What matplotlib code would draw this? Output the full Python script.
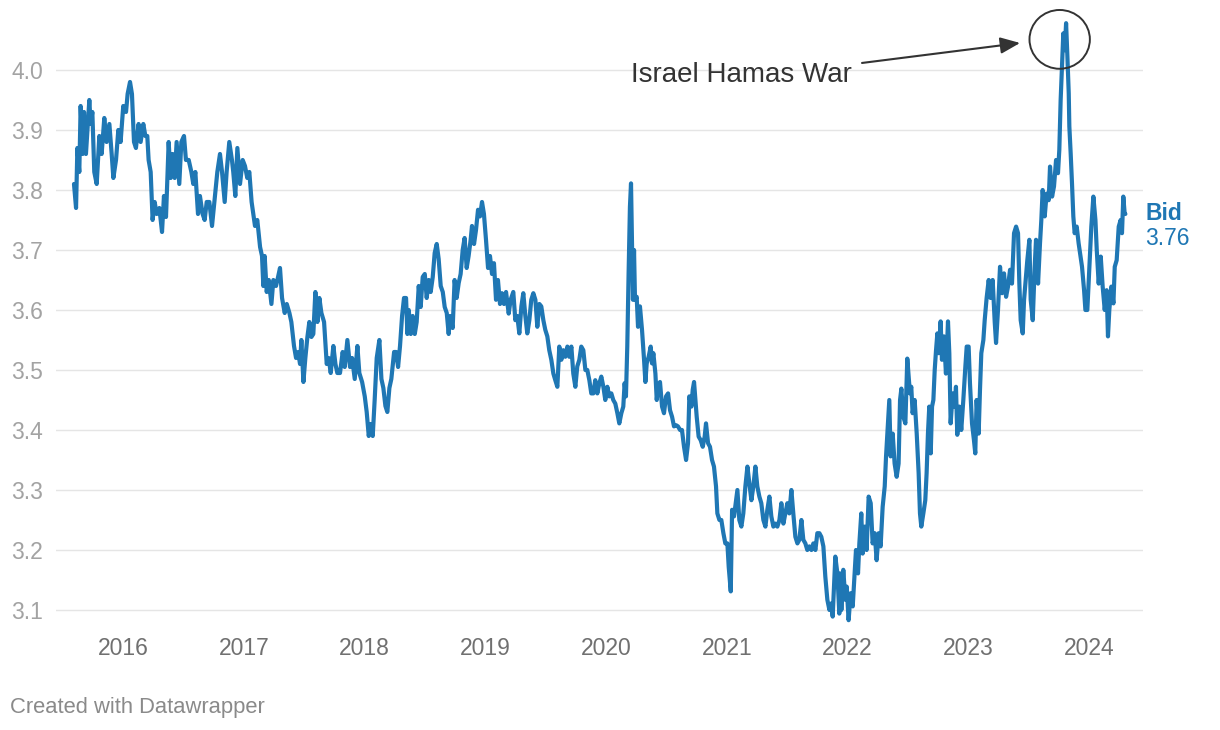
import matplotlib
matplotlib.use("Agg")
import matplotlib.pyplot as plt
from matplotlib.patches import Ellipse

plt.rcParams['font.family'] = ['Liberation Sans', 'DejaVu Sans']

# USD/ILS bid, dates as decimal years
dates = [
    2015.594, 2015.611, 2015.622, 2015.638, 2015.649, 2015.666, 2015.677, 2015.693, 2015.721, 2015.732,
    2015.746, 2015.762, 2015.782, 2015.804, 2015.823, 2015.845, 2015.864, 2015.887, 2015.906, 2015.920,
    2015.942, 2015.961, 2015.980, 2016.002, 2016.025, 2016.038, 2016.058, 2016.074, 2016.091, 2016.107,
    2016.129, 2016.146, 2016.168, 2016.185, 2016.201, 2016.212, 2016.229, 2016.245, 2016.262, 2016.279,
    2016.301, 2016.323, 2016.339, 2016.356, 2016.378, 2016.395, 2016.411, 2016.428, 2016.444, 2016.466,
    2016.483, 2016.505, 2016.521, 2016.544, 2016.566, 2016.582, 2016.599, 2016.621, 2016.637, 2016.659,
    2016.676, 2016.693, 2016.715, 2016.737, 2016.759, 2016.781, 2016.803, 2016.820, 2016.842, 2016.858,
    2016.880, 2016.902, 2016.913, 2016.930, 2016.947, 2016.969, 2016.991, 2017.010, 2017.029, 2017.046,
    2017.065, 2017.093, 2017.112,
    2017.135, 2017.151, 2017.162, 2017.173, 2017.190, 2017.207, 2017.229, 2017.245, 2017.267, 2017.284,
    2017.300, 2017.317, 2017.339, 2017.356, 2017.378, 2017.394, 2017.416, 2017.433, 2017.450, 2017.466,
    2017.477, 2017.494, 2017.510, 2017.527, 2017.543, 2017.560, 2017.576, 2017.593, 2017.610, 2017.626,
    2017.643, 2017.665, 2017.687, 2017.703, 2017.720, 2017.742, 2017.759, 2017.775, 2017.797, 2017.819,
    2017.836, 2017.858, 2017.880, 2017.897, 2017.919, 2017.941, 2017.957, 2017.980, 2018.002, 2018.018,
    2018.035, 2018.051, 2018.068, 2018.084, 2018.101, 2018.123, 2018.140, 2018.156, 2018.173, 2018.189,
    2018.206, 2018.222, 2018.245, 2018.261, 2018.278, 2018.294, 2018.311, 2018.327, 2018.344, 2018.355,
    2018.366, 2018.383, 2018.399, 2018.416, 2018.432, 2018.449, 2018.465, 2018.482, 2018.499, 2018.515,
    2018.532, 2018.548, 2018.565, 2018.581, 2018.598, 2018.614, 2018.631, 2018.648, 2018.664, 2018.681,
    2018.697, 2018.708,
    2018.730, 2018.746, 2018.763, 2018.780, 2018.796, 2018.813, 2018.829, 2018.846, 2018.862, 2018.879,
    2018.890, 2018.907, 2018.923, 2018.940, 2018.956, 2018.973, 2018.989, 2019.006, 2019.023, 2019.039,
    2019.056, 2019.072, 2019.089, 2019.105, 2019.122, 2019.138, 2019.155, 2019.172, 2019.194, 2019.210,
    2019.232, 2019.249, 2019.265, 2019.282, 2019.299, 2019.315, 2019.332, 2019.348, 2019.365, 2019.381,
    2019.398, 2019.415, 2019.431, 2019.448, 2019.464, 2019.481, 2019.497, 2019.514, 2019.530, 2019.547,
    2019.564, 2019.580, 2019.597, 2019.613, 2019.630, 2019.646, 2019.663, 2019.680, 2019.696, 2019.713,
    2019.729, 2019.746, 2019.762, 2019.779, 2019.795, 2019.812, 2019.829, 2019.845, 2019.862, 2019.878,
    2019.895, 2019.911, 2019.928, 2019.945, 2019.961, 2019.978, 2019.994, 2020.011, 2020.027, 2020.044,
    2020.060, 2020.077, 2020.094, 2020.110, 2020.127, 2020.143, 2020.154, 2020.165, 2020.176, 2020.187,
    2020.198, 2020.207, 2020.215, 2020.223, 2020.232, 2020.240, 2020.254, 2020.265, 2020.281,
    2020.298, 2020.315, 2020.326, 2020.337, 2020.353, 2020.370, 2020.381, 2020.392, 2020.409, 2020.420,
    2020.431, 2020.447, 2020.464, 2020.480, 2020.497, 2020.514, 2020.530, 2020.547, 2020.563, 2020.580,
    2020.596, 2020.613, 2020.629, 2020.646, 2020.663, 2020.679, 2020.690, 2020.707, 2020.718, 2020.729,
    2020.740, 2020.751, 2020.767, 2020.784, 2020.801, 2020.817, 2020.828, 2020.845, 2020.861, 2020.878,
    2020.894, 2020.911, 2020.922, 2020.939, 2020.955, 2020.972, 2020.988, 2021.005, 2021.016, 2021.033,
    2021.044, 2021.060, 2021.077, 2021.088, 2021.104, 2021.121, 2021.137, 2021.154, 2021.171, 2021.187,
    2021.204, 2021.220, 2021.237, 2021.253, 2021.270, 2021.286, 2021.303, 2021.320, 2021.336, 2021.353,
    2021.369, 2021.386, 2021.402, 2021.419, 2021.436, 2021.452, 2021.469, 2021.485, 2021.502, 2021.518,
    2021.535, 2021.551, 2021.568, 2021.585, 2021.601, 2021.618, 2021.634, 2021.651, 2021.667, 2021.684,
    2021.701, 2021.717, 2021.734, 2021.750, 2021.767, 2021.783, 2021.800, 2021.816, 2021.833, 2021.850,
    2021.866, 2021.877, 2021.888, 2021.899, 2021.916, 2021.932,
    2021.938, 2021.949, 2021.965, 2021.982, 2021.993, 2022.009, 2022.026, 2022.043, 2022.059, 2022.070,
    2022.087, 2022.098, 2022.114, 2022.125, 2022.142, 2022.158, 2022.175, 2022.192, 2022.208, 2022.225,
    2022.241, 2022.258, 2022.274, 2022.291, 2022.308, 2022.319, 2022.335, 2022.346, 2022.357, 2022.374,
    2022.390, 2022.407, 2022.423, 2022.435, 2022.446, 2022.462, 2022.479, 2022.495, 2022.506, 2022.517,
    2022.528, 2022.539, 2022.556, 2022.573, 2022.589, 2022.600, 2022.611, 2022.628, 2022.644, 2022.655,
    2022.666, 2022.677, 2022.689, 2022.700, 2022.711, 2022.722, 2022.733, 2022.744, 2022.755, 2022.771,
    2022.782, 2022.799, 2022.815, 2022.832, 2022.843, 2022.854, 2022.871, 2022.887, 2022.898, 2022.909,
    2022.926, 2022.942, 2022.959, 2022.976, 2022.987, 2023.003, 2023.014, 2023.031, 2023.047, 2023.058,
    2023.069, 2023.086, 2023.097, 2023.108, 2023.125, 2023.136, 2023.152, 2023.169, 2023.185, 2023.202,
    2023.219, 2023.230, 2023.246,
    2023.263, 2023.280, 2023.296, 2023.313, 2023.329, 2023.346, 2023.362, 2023.379, 2023.396, 2023.412,
    2023.423, 2023.434, 2023.451, 2023.462, 2023.473, 2023.489, 2023.506, 2023.517, 2023.534, 2023.550,
    2023.561, 2023.578, 2023.594, 2023.605, 2023.616, 2023.633, 2023.649, 2023.666, 2023.677, 2023.694,
    2023.710, 2023.727, 2023.743, 2023.754, 2023.765, 2023.776, 2023.787, 2023.799, 2023.810, 2023.821,
    2023.832, 2023.837, 2023.848, 2023.859, 2023.870, 2023.881, 2023.898, 2023.914, 2023.926, 2023.942,
    2023.959, 2023.970, 2023.986, 2024.003, 2024.019, 2024.036, 2024.053, 2024.064, 2024.080, 2024.097,
    2024.113, 2024.130, 2024.146, 2024.157, 2024.168, 2024.185, 2024.202, 2024.213, 2024.229, 2024.246,
    2024.262, 2024.273, 2024.284, 2024.295, 2024.301,
]

bid = [
    3.81, 3.77, 3.87, 3.83, 3.94, 3.86, 3.93, 3.86, 3.95, 3.91,
    3.93, 3.83, 3.81, 3.89, 3.86, 3.92, 3.88, 3.91, 3.86, 3.82,
    3.85, 3.90, 3.88, 3.94, 3.93, 3.96, 3.98, 3.96, 3.88, 3.87,
    3.91, 3.88, 3.91, 3.89, 3.89, 3.85, 3.83, 3.75, 3.78, 3.76,
    3.77, 3.73, 3.79, 3.755, 3.88, 3.82, 3.86, 3.82, 3.88, 3.81,
    3.88, 3.89, 3.85, 3.85, 3.83, 3.81, 3.83, 3.76, 3.79, 3.76,
    3.75, 3.78, 3.78, 3.74, 3.785, 3.83, 3.86, 3.83, 3.78, 3.83,
    3.88, 3.85, 3.83, 3.79, 3.87, 3.81, 3.85, 3.84, 3.82, 3.83,
    3.78, 3.74, 3.75,
    3.705, 3.69, 3.64, 3.69, 3.63, 3.65, 3.61, 3.65, 3.64, 3.655,
    3.67, 3.62, 3.595, 3.61, 3.595, 3.58, 3.54, 3.52, 3.53, 3.51,
    3.55, 3.48, 3.52, 3.555, 3.58, 3.555, 3.56, 3.63, 3.58, 3.62,
    3.595, 3.58, 3.51, 3.52, 3.495, 3.54, 3.51, 3.495, 3.495, 3.53,
    3.505, 3.55, 3.505, 3.52, 3.485, 3.54, 3.495, 3.48, 3.456, 3.43,
    3.39, 3.41, 3.39, 3.45, 3.52, 3.55, 3.485, 3.47, 3.44, 3.43,
    3.47, 3.485, 3.53, 3.53, 3.505, 3.54, 3.59, 3.62, 3.62, 3.56,
    3.60, 3.56, 3.59, 3.56, 3.58, 3.64, 3.605, 3.655, 3.66, 3.62,
    3.65, 3.63, 3.655, 3.695, 3.71, 3.685, 3.64, 3.63, 3.605, 3.595,
    3.56, 3.59,
    3.57, 3.65, 3.62, 3.645, 3.66, 3.70, 3.72, 3.67, 3.69, 3.717,
    3.74, 3.71, 3.733, 3.767, 3.756, 3.78, 3.76, 3.717, 3.67, 3.69,
    3.66, 3.678, 3.617, 3.65, 3.61, 3.628, 3.61, 3.63, 3.594, 3.617,
    3.63, 3.583, 3.59, 3.561, 3.606, 3.628, 3.59, 3.561, 3.583, 3.617,
    3.628, 3.617, 3.572, 3.61, 3.606, 3.583, 3.567, 3.556, 3.533, 3.517,
    3.494, 3.483, 3.472, 3.539, 3.517, 3.533, 3.522, 3.539, 3.522, 3.539,
    3.494, 3.472, 3.506, 3.517, 3.539, 3.533, 3.50, 3.50, 3.483, 3.461,
    3.461, 3.483, 3.461, 3.478, 3.489, 3.472, 3.45, 3.472, 3.456, 3.461,
    3.45, 3.444, 3.428, 3.411, 3.428, 3.439, 3.478, 3.456, 3.539, 3.661,
    3.772, 3.811, 3.717, 3.617, 3.70, 3.617, 3.622, 3.572, 3.606,
    3.567, 3.517, 3.48, 3.511, 3.522, 3.539, 3.511, 3.528, 3.494, 3.45,
    3.472, 3.48, 3.439, 3.428, 3.456, 3.461, 3.433, 3.422, 3.406, 3.408,
    3.406, 3.40, 3.40, 3.372, 3.35, 3.378, 3.456, 3.439, 3.467, 3.48,
    3.45, 3.422, 3.389, 3.383, 3.372, 3.389, 3.411, 3.378, 3.372, 3.35,
    3.339, 3.306, 3.261, 3.25, 3.25, 3.228, 3.211, 3.211, 3.172, 3.131,
    3.267, 3.256, 3.283, 3.30, 3.25, 3.239, 3.261, 3.306, 3.339, 3.311,
    3.283, 3.306, 3.339, 3.306, 3.289, 3.278, 3.25, 3.239, 3.267, 3.289,
    3.256, 3.239, 3.244, 3.239, 3.25, 3.278, 3.244, 3.261, 3.278, 3.261,
    3.30, 3.261, 3.222, 3.211, 3.217, 3.25, 3.217, 3.211, 3.20, 3.206,
    3.20, 3.211, 3.20, 3.228, 3.228, 3.222, 3.206, 3.156, 3.117, 3.10,
    3.111, 3.089, 3.139, 3.189, 3.161, 3.094,
    3.161, 3.10, 3.167, 3.117, 3.139, 3.083, 3.128, 3.106, 3.161, 3.20,
    3.161, 3.211, 3.261, 3.194, 3.239, 3.20, 3.289, 3.278, 3.211, 3.228,
    3.183, 3.228, 3.206, 3.272, 3.306, 3.356, 3.411, 3.45, 3.356, 3.394,
    3.344, 3.322, 3.344, 3.45, 3.469, 3.422, 3.411, 3.519, 3.489, 3.461,
    3.472, 3.428, 3.45, 3.394, 3.328, 3.261, 3.239, 3.261, 3.283, 3.328,
    3.394, 3.439, 3.361, 3.439, 3.45, 3.50, 3.533, 3.561, 3.528, 3.581,
    3.517, 3.556, 3.494, 3.581, 3.528, 3.411, 3.461, 3.439, 3.472, 3.392,
    3.439, 3.40, 3.45, 3.506, 3.539, 3.539, 3.478, 3.411, 3.383, 3.361,
    3.45, 3.394, 3.467, 3.528, 3.55, 3.583, 3.62, 3.65, 3.62, 3.65,
    3.58, 3.545, 3.60,
    3.672, 3.628, 3.661, 3.622, 3.639, 3.667, 3.644, 3.728, 3.739, 3.728,
    3.644, 3.583, 3.561, 3.617, 3.644, 3.683, 3.717, 3.617, 3.583, 3.672,
    3.717, 3.644, 3.711, 3.75, 3.80, 3.756, 3.794, 3.783, 3.839, 3.789,
    3.806, 3.85, 3.828, 3.867, 3.95, 4.006, 4.061, 4.033, 4.078, 4.022,
    3.961, 3.906, 3.861, 3.811, 3.756, 3.728, 3.739, 3.711, 3.694, 3.672,
    3.633, 3.60, 3.60, 3.672, 3.739, 3.789, 3.75, 3.70, 3.644, 3.689,
    3.639, 3.60, 3.633, 3.556, 3.60, 3.639, 3.611, 3.672, 3.683, 3.739,
    3.75, 3.728, 3.789, 3.761, 3.76,
]

years = [2016, 2017, 2018, 2019, 2020, 2021, 2022, 2023, 2024]
y_ticks = [3.1, 3.2, 3.3, 3.4, 3.5, 3.6, 3.7, 3.8, 3.9, 4.0]

blue = '#1f77b4'

fig = plt.figure(figsize=(12.2, 7.3), dpi=100)
ax = fig.add_axes([56 / 1220, 1 - 625 / 730, 1087 / 1220, 617 / 730])

ax.plot(dates, bid, color=blue, lw=3.0, solid_joinstyle='round', solid_capstyle='round', zorder=3)

ax.set_xlim(2015.445, 2024.447)
ax.set_ylim(3.075, 4.1033)
ax.set_xticks(years)
ax.set_xticklabels([str(y) for y in years])
ax.set_yticks(y_ticks)
ax.set_yticklabels(['%.1f' % v for v in y_ticks])

ax.grid(axis='y', color='#e5e5e5', lw=1.0, zorder=0)
ax.grid(axis='x', visible=False)
for s in ax.spines.values():
    s.set_visible(False)
ax.tick_params(axis='both', length=0)
ax.tick_params(axis='y', pad=9.5, labelsize=16.5, labelcolor='#a3a3a3')
ax.tick_params(axis='x', pad=8.5, labelsize=16.5, labelcolor='#707070')

# annotation
ax.annotate('', xy=(2023.429, 4.045), xytext=(2022.12, 4.0117),
            arrowprops=dict(arrowstyle='-|>,head_length=0.6,head_width=0.25',
                            mutation_scale=20, lw=1.5, color='#333333',
                            shrinkA=0, shrinkB=0),
            annotation_clip=False, zorder=5)
ax.text(2020.207, 3.992, 'Israel Hamas War', fontsize=20, color='#333333',
        ha='left', va='center', zorder=5)
ax.add_patch(Ellipse((2023.757, 4.051), 0.5, 0.098, fill=False,
                     edgecolor='#333333', lw=1.4, clip_on=False, zorder=4))

# end label
ax.annotate('Bid', xy=(dates[-1], bid[-1]), xytext=(14.4, 0.0), textcoords='offset points',
            fontsize=16.5, fontweight='bold', color=blue, ha='left', va='center',
            annotation_clip=False)
ax.annotate('%.2f' % bid[-1], xy=(dates[-1], bid[-1]), xytext=(14.4, -18.0),
            textcoords='offset points', fontsize=16.5, color=blue, ha='left', va='center',
            annotation_clip=False)

fig.text(10 / 1220, 1 - 707 / 730, 'Created with Datawrapper', fontsize=15.8,
         color='#8a8a8a', ha='left', va='center')

fig.savefig('out.png', dpi=100)
